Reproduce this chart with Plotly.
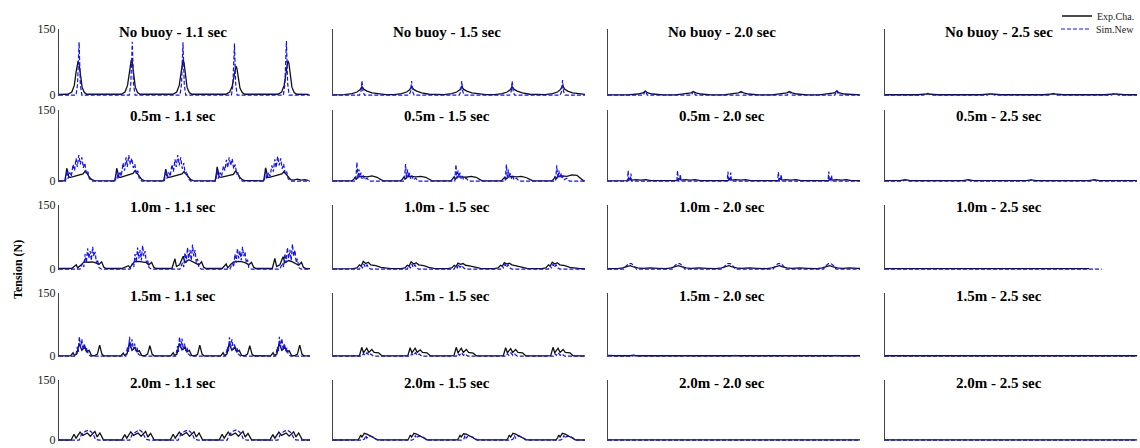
import plotly.graph_objects as go

# ---------------- data (x: relative time 0-100 across each panel, y: tension N) ----------------
row_labels = ["No buoy", "0.5m", "1.0m", "1.5m", "2.0m"]
period_labels = ["1.1 sec", "1.5 sec", "2.0 sec", "2.5 sec"]
y_ticks = [0, 150]

# Row 1 : No buoy
r1c1_exp_x = [0, 3.6, 5.1, 6.1, 6.8, 7.3, 7.6, 8.0, 8.6, 9.2, 10.1, 11.1, 24.8, 26.3, 27.3, 28.0, 28.5, 28.8, 29.2, 29.8, 30.4, 31.3, 32.3, 45.4, 46.9, 47.9, 48.6, 49.1, 49.4, 49.8, 50.4, 51.0, 51.9, 52.9, 66.5, 68.0, 69.0, 69.7, 70.2, 70.5, 70.9, 71.5, 72.1, 73.0, 74.0, 87.2, 88.7, 89.7, 90.4, 90.9, 91.2, 91.6, 92.2, 92.8, 93.7, 94.7, 99.5]
r1c1_exp_y = [1.5, 2, 7, 22, 52, 72, 77, 71, 45, 18, 6, 2, 2, 7, 22, 52, 75, 80, 74, 45, 18, 6, 2, 2, 7, 22, 52, 75, 80, 74, 45, 18, 6, 2, 2, 7, 20, 45, 61, 66, 60, 40, 16, 6, 2, 2, 7, 22, 52, 73, 78, 72, 45, 18, 6, 2, 1.5]
r1c1_sim_x = [0, 6.8, 7.4, 8.0, 8.5, 9.1, 28.0, 28.6, 29.2, 29.7, 30.3, 48.2, 48.8, 49.4, 49.9, 50.5, 68.7, 69.3, 69.9, 70.4, 71.0, 89.4, 90.0, 90.6, 91.1, 91.7, 100]
r1c1_sim_y = [0, 0, 25, 120, 25, 0, 0, 25, 121, 25, 0, 0, 25, 120, 25, 0, 0, 24, 117, 24, 0, 0, 26, 123, 26, 0, 0]

r1c2_exp_x = [0, 4.5, 7.5, 9.5, 10.7, 11.5, 12.3, 13.5, 15.5, 18.5, 21.0, 24.2, 27.2, 29.2, 30.4, 31.2, 32.0, 33.2, 35.2, 38.2, 40.7, 44.1, 47.1, 49.1, 50.3, 51.1, 51.9, 53.1, 55.1, 58.1, 60.6, 64.1, 67.1, 69.1, 70.3, 71.1, 71.9, 73.1, 75.1, 78.1, 80.6, 84.1, 87.1, 89.1, 90.3, 91.1, 91.9, 93.1, 95.1, 98.1, 100]
r1c2_exp_y = [0.5, 1, 3.5, 7, 12, 19, 13, 9, 5, 2, 1, 1, 3.5, 7, 12, 19, 13, 9, 5, 2, 1, 1, 3.5, 7, 12, 19, 13, 9, 5, 2, 1, 1, 3.5, 7, 12, 19, 13, 9, 5, 2, 1, 1, 3.5, 7, 13, 21, 14, 9, 5, 2, 1.5]
r1c2_sim_x = [0, 10.5, 11.1, 11.5, 11.9, 12.5, 30.2, 30.8, 31.2, 31.6, 32.2, 50.1, 50.7, 51.1, 51.5, 52.1, 70.1, 70.7, 71.1, 71.5, 72.1, 90.1, 90.7, 91.1, 91.5, 92.1, 100]
r1c2_sim_y = [0, 0, 8, 33, 8, 0, 0, 8, 32, 8, 0, 0, 8, 32, 8, 0, 0, 8, 32, 8, 0, 0, 8, 34, 8, 0, 0]

r1c3_exp_x = [0, 7.8, 11.8, 13.8, 14.8, 15.8, 17.8, 21.8, 26.9, 30.9, 32.9, 33.9, 34.9, 36.9, 40.9, 45.8, 49.8, 51.8, 52.8, 53.8, 55.8, 59.8, 65.0, 69.0, 71.0, 72.0, 73.0, 75.0, 79.0, 83.8, 87.8, 89.8, 90.8, 91.8, 93.8, 97.8, 100]
r1c3_exp_y = [0.5, 0.5, 2.5, 5, 9, 5, 2.5, 0.5, 0.5, 2.5, 5, 8, 5, 2.5, 0.5, 0.5, 2.5, 5, 8, 5, 2.5, 0.5, 0.5, 2.5, 5, 8, 5, 2.5, 0.5, 0.5, 2.5, 5, 9, 5, 2.5, 0.5, 0.5]
r1c3_sim_x = [0, 14.0, 14.8, 15.6, 33.1, 33.9, 34.7, 52.0, 52.8, 53.6, 71.2, 72.0, 72.8, 90.0, 90.8, 91.6, 100]
r1c3_sim_y = [0, 0, 10, 0, 0, 9, 0, 0, 9, 0, 0, 9, 0, 0, 11, 0, 0]

r1c4_exp_x = [0, 12.8, 16.8, 20.8, 38, 42, 46, 62.8, 66.8, 70.8, 87.2, 91.2, 95.2, 100]
r1c4_exp_y = [0.8, 0.8, 3, 0.8, 0.8, 3, 0.8, 0.8, 3, 0.8, 0.8, 3, 0.8, 0.8]
r1c4_sim_x = [0, 15.3, 16.8, 18.3, 40.5, 42, 43.5, 65.3, 66.8, 68.3, 89.7, 91.2, 92.7, 100]
r1c4_sim_y = [0, 0, 4, 0, 0, 4, 0, 0, 4, 0, 0, 4, 0, 0]

# Row 2 : 0.5 m
r2c1_exp_x = [0, 2.3, 2.8, 3.1, 3.5, 3.9, 4.6, 6.1, 8.1, 9.6, 10.4, 11.1, 12.1, 13.1, 14.1,
              22.2, 22.7, 23.0, 23.4, 23.8, 24.5, 26.0, 28.0, 29.5, 30.3, 31.0, 32.0, 33.0, 34.0,
              41.7, 42.2, 42.5, 42.9, 43.3, 44.0, 45.5, 47.5, 49.0, 49.8, 50.5, 51.5, 52.5, 53.5,
              62.2, 62.7, 63.0, 63.4, 63.8, 64.5, 66.0, 68.0, 69.5, 70.3, 71.0, 72.0, 73.0, 74.0,
              81.5, 82.0, 82.3, 82.7, 83.1, 83.8, 85.3, 87.3, 88.8, 89.6, 90.3, 91.3, 92.3, 93.3, 95.0, 96.5, 98.0, 99.5]
r2c1_exp_y = [0.5, 0.5, 15, 27, 20, 8, 8, 10, 12, 15, 21, 17, 8, 3, 1,
              0.5, 15, 27, 19, 8, 8, 10, 13, 16, 22, 17, 8, 3, 1,
              0.5, 14, 25, 18, 8, 8, 10, 12, 15, 20, 16, 8, 3, 1,
              0.5, 16, 30, 21, 9, 8, 10, 12, 14, 21, 17, 8, 3, 1,
              0.5, 15, 28, 20, 8, 8, 10, 12, 15, 20, 16, 8, 3, 2, 4, 2, 3, 1]
r2c1_sim_x = [0, 2.6, 3.1, 3.6, 4.3, 4.9, 5.6, 6.2, 6.8, 7.3, 7.9, 8.5, 9.1, 9.7, 10.3, 10.9, 11.5, 12.1, 13.1,
              22.5, 23.0, 23.5, 24.2, 24.8, 25.5, 26.1, 26.7, 27.2, 27.8, 28.4, 29.0, 29.6, 30.2, 30.8, 31.4, 32.0, 33.0,
              42.0, 42.5, 43.0, 43.7, 44.3, 45.0, 45.6, 46.2, 46.7, 47.3, 47.9, 48.5, 49.1, 49.7, 50.3, 50.9, 51.5, 52.5,
              62.5, 63.0, 63.5, 64.2, 64.8, 65.5, 66.1, 66.7, 67.2, 67.8, 68.4, 69.0, 69.6, 70.2, 70.8, 71.4, 72.0, 73.0,
              81.8, 82.3, 82.8, 83.5, 84.1, 84.8, 85.4, 86.0, 86.5, 87.1, 87.7, 88.3, 88.9, 89.5, 90.1, 90.7, 91.3, 92.3, 100]
r2c1_sim_y = [0, 0, 22, 5, 18, 10, 35, 22, 48, 30, 55, 35, 50, 28, 38, 15, 20, 5, 0,
              0, 20, 5, 20, 10, 38, 22, 50, 30, 55, 35, 48, 28, 36, 15, 22, 5, 0,
              0, 22, 5, 18, 10, 35, 20, 46, 30, 55, 33, 50, 26, 38, 15, 20, 5, 0,
              0, 25, 5, 18, 10, 32, 22, 45, 28, 50, 33, 47, 26, 35, 14, 18, 5, 0,
              0, 20, 5, 18, 10, 33, 20, 46, 28, 52, 33, 48, 26, 36, 15, 20, 5, 0, 0]

r2c2_exp_x = [0, 7.5, 8.3, 8.8, 9.3, 10.0, 11.5, 13.5, 15.5, 17.5, 19.0, 20.0,
              26.8, 27.6, 28.1, 28.6, 29.3, 30.8, 32.8, 34.8, 36.8, 38.3, 39.3,
              46.8, 47.6, 48.1, 48.6, 49.3, 50.8, 52.8, 54.8, 56.8, 58.3, 59.3,
              66.8, 67.6, 68.1, 68.6, 69.3, 70.8, 72.8, 74.8, 76.8, 78.3, 79.3,
              86.8, 87.6, 88.1, 88.6, 89.3, 90.8, 92.8, 94.8, 96.8, 98.3, 99.3, 100]
r2c2_exp_y = [0.5, 0.5, 4, 8, 4, 9, 10, 9, 11, 8, 3, 0.5,
              0.5, 4, 9, 4, 9, 10, 9, 10, 8, 3, 0.5,
              0.5, 5, 9, 4, 9, 9, 8, 10, 8, 3, 0.5,
              0.5, 4, 8, 4, 8, 10, 9, 10, 7, 3, 0.5,
              0.5, 4, 9, 5, 10, 11, 10, 13, 12, 6, 1, 0.5]
r2c2_sim_x = [0, 9.0, 9.5, 9.9, 10.3, 10.7, 11.1, 11.5, 12.0, 12.5, 13.5, 14.5,
              28.3, 28.8, 29.2, 29.6, 30.0, 30.4, 30.8, 31.3, 31.8, 32.8, 33.8,
              48.3, 48.8, 49.2, 49.6, 50.0, 50.4, 50.8, 51.3, 51.8, 52.8, 53.8,
              68.3, 68.8, 69.2, 69.6, 70.0, 70.4, 70.8, 71.3, 71.8, 72.8, 73.8,
              88.3, 88.8, 89.2, 89.6, 90.0, 90.4, 90.8, 91.3, 91.8, 92.8, 93.8, 100]
r2c2_sim_y = [0, 0, 40, 5, 25, 8, 18, 5, 12, 3, 6, 0,
              0, 36, 5, 24, 8, 17, 5, 12, 3, 6, 0,
              0, 35, 5, 22, 8, 18, 5, 11, 3, 6, 0,
              0, 35, 5, 24, 8, 16, 5, 12, 3, 6, 0,
              0, 33, 5, 22, 8, 17, 5, 11, 3, 6, 0, 0]

r2c3_exp_x = [0, 7, 8, 8.5, 9.5, 11, 13, 15, 17,
              26.6, 27.6, 28.1, 29.1, 30.6, 32.6, 34.6, 36.6,
              46.6, 47.6, 48.1, 49.1, 50.6, 52.6, 54.6, 56.6,
              66.6, 67.6, 68.1, 69.1, 70.6, 72.6, 74.6, 76.6,
              86.6, 87.6, 88.1, 89.1, 90.6, 92.6, 94.6, 96.6, 100]
r2c3_exp_y = [0.5, 1, 1, 5, 2, 3, 2, 3, 1,
              1, 1, 5, 2, 3, 2, 3, 1,
              1, 1, 5, 2, 3, 2, 3, 1,
              1, 1, 5, 2, 3, 2, 3, 1,
              1, 1, 5, 2, 3, 2, 3, 1, 1]
r2c3_sim_x = [0, 7.7, 8, 8.3, 8.8, 9.1, 9.4,
              27.3, 27.6, 27.9, 28.4, 28.7, 29.0,
              47.3, 47.6, 47.9, 48.4, 48.7, 49.0,
              67.3, 67.6, 67.9, 68.4, 68.7, 69.0,
              87.3, 87.6, 87.9, 88.4, 88.7, 89.0, 100]
r2c3_sim_y = [0, 0, 22, 0, 0, 16, 0,
              0, 22, 0, 0, 14, 0,
              0, 20, 0, 0, 18, 0,
              0, 19, 0, 0, 14, 0,
              0, 20, 0, 0, 12, 0, 0]

r2c4_exp_x = [0, 6, 8, 10, 31, 33, 35, 56, 58, 60, 81, 83, 85, 100]
r2c4_exp_y = [0.8, 0.8, 3, 0.8, 0.8, 3, 0.8, 0.8, 2.5, 0.8, 0.8, 3, 0.8, 0.8]
r2c4_sim_x = [0, 7, 8, 9, 32, 33, 34, 57, 58, 59, 82, 83, 84, 100]
r2c4_sim_y = [0, 0, 2.5, 0, 0, 2.5, 0, 0, 2.5, 0, 0, 2.5, 0, 0]

# Row 3 : 1.0 m
r3c1_exp_x = [0, 5.0, 6.9, 7.4, 8.9, 9.9, 11.9, 13.4, 14.9, 15.9, 17.0, 17.8, 18.7,
              25.0, 27.7, 28.3, 29.3, 30.0, 31.8, 33.3, 34.8, 35.8, 36.9, 37.7, 38.6,
              45.0, 46.2, 46.8, 48.0, 49.5, 50.2, 51.7, 53.2, 54.7, 55.7, 56.8, 57.6, 58.5,
              65.0, 66.6, 67.2, 68.6, 69.6, 71.6, 73.1, 74.6, 75.6, 76.7, 77.5, 78.4,
              85.0, 86.0, 86.7, 88.0, 89.3, 90.0, 91.5, 93.0, 94.5, 95.5, 96.6, 97.4, 98.5, 100]
r3c1_exp_y = [1.5, 1.5, 10, 3, 10, 17, 16, 17, 14, 11, 17, 5, 1.5,
              1.5, 8, 3, 12, 17, 18, 17, 15, 10, 16, 5, 1.5,
              1.5, 24, 6, 10, 30, 15, 22, 18, 14, 10, 17, 5, 1.5,
              1.5, 12, 3, 12, 17, 18, 17, 14, 10, 16, 5, 1.5,
              1.5, 25, 6, 10, 29, 15, 20, 17, 12, 9, 16, 4, 1, 1]
r3c1_sim_x = [0, 8.4, 9.4, 9.9, 10.4, 10.9, 11.4, 11.9, 12.4, 12.9, 13.4, 13.9, 14.4, 14.9, 15.4, 15.9, 16.9,
              28.3, 29.3, 29.8, 30.3, 30.8, 31.3, 31.8, 32.3, 32.8, 33.3, 33.8, 34.3, 34.8, 35.3, 35.8, 36.8,
              48.2, 49.2, 49.7, 50.2, 50.7, 51.2, 51.7, 52.2, 52.7, 53.2, 53.7, 54.2, 54.7, 55.2, 55.7, 56.7,
              68.1, 69.1, 69.6, 70.1, 70.6, 71.1, 71.6, 72.1, 72.6, 73.1, 73.6, 74.1, 74.6, 75.1, 75.6, 76.6,
              88.0, 89.0, 89.5, 90.0, 90.5, 91.0, 91.5, 92.0, 92.5, 93.0, 93.5, 94.0, 94.5, 95.0, 95.5, 96.5, 100]
r3c1_sim_y = [0, 0, 14, 5, 35, 15, 48, 25, 42, 20, 52, 30, 40, 15, 22, 4, 0,
              0, 14, 5, 35, 15, 50, 25, 44, 20, 55, 30, 42, 15, 22, 4, 0,
              0, 15, 5, 38, 15, 50, 25, 44, 20, 57, 30, 44, 15, 24, 4, 0,
              0, 14, 5, 35, 15, 48, 25, 42, 20, 52, 30, 40, 15, 22, 4, 0,
              0, 14, 5, 36, 15, 50, 25, 45, 20, 58, 30, 44, 15, 24, 4, 0, 0]

r3c2_exp_x = [0, 8, 9.5, 10.5, 11.2, 12, 13, 14, 15, 17, 19, 21, 23,
              27, 28.5, 29.5, 30.2, 31, 32, 33, 34, 36, 38, 40, 42,
              45.6, 47.1, 48.1, 48.8, 49.6, 50.6, 51.6, 52.6, 54.6, 56.6, 58.6, 60.6,
              64, 65.5, 66.5, 67.2, 68, 69, 70, 71, 73, 75, 77, 79,
              83, 84.5, 85.5, 86.2, 87, 88, 89, 90, 92, 94, 96, 98, 100]
r3c2_exp_y = [0.5, 1, 3, 10, 7, 18, 13, 16, 10, 8, 4, 2, 1,
              1, 3, 9, 7, 17, 12, 15, 10, 8, 4, 2, 1,
              1, 3, 9, 6, 14, 11, 13, 9, 7, 4, 2, 1,
              1, 3, 9, 7, 15, 12, 14, 10, 7, 4, 2, 1,
              1, 3, 10, 7, 16, 12, 15, 10, 8, 4, 2, 1, 1]
r3c2_sim_x = [0, 10.5, 11, 11.7, 12.3, 12.8, 13.5, 14.2, 15,
              29.5, 30, 30.7, 31.3, 31.8, 32.5, 33.2, 34,
              48.1, 48.6, 49.3, 49.9, 50.4, 51.1, 51.8, 52.6,
              66.5, 67, 67.7, 68.3, 68.8, 69.5, 70.2, 71,
              85.5, 86, 86.7, 87.3, 87.8, 88.5, 89.2, 90, 100]
r3c2_sim_y = [0, 0, 8, 3, 12, 4, 10, 3, 0,
              0, 8, 3, 12, 4, 10, 3, 0,
              0, 7, 3, 11, 4, 9, 3, 0,
              0, 8, 3, 12, 4, 10, 3, 0,
              0, 8, 3, 12, 4, 10, 3, 0, 0]

r3c3_exp_x = [0, 3.8, 5.8, 7.8, 8.8, 9.8, 11.8, 13.8, 16.8, 19.8,
              23, 25, 27, 28, 29, 31, 33, 36, 39,
              43, 45, 47, 48, 49, 51, 53, 56, 59,
              63, 65, 67, 68, 69, 71, 73, 76, 79,
              83, 85, 87, 88, 89, 91, 93, 96, 99, 100]
r3c3_exp_y = [1, 1, 3, 6, 8, 6, 3, 2, 3, 2,
              1, 3, 6, 8, 6, 3, 2, 3, 2,
              1, 3, 6, 8, 6, 3, 2, 3, 2,
              1, 3, 6, 8, 6, 3, 2, 3, 2,
              1, 3, 6, 8, 6, 3, 2, 3, 2, 1.5]
r3c3_sim_x = [0, 6.3, 7.3, 8.3, 9.3, 10.3, 11.3,
              25.5, 26.5, 27.5, 28.5, 29.5, 30.5,
              45.5, 46.5, 47.5, 48.5, 49.5, 50.5,
              65.5, 66.5, 67.5, 68.5, 69.5, 70.5,
              85.5, 86.5, 87.5, 88.5, 89.5, 90.5, 100]
r3c3_sim_y = [0, 0, 8, 13, 13, 8, 0,
              0, 8, 13, 13, 8, 0,
              0, 8, 13, 13, 8, 0,
              0, 8, 13, 13, 8, 0,
              0, 8, 13, 13, 8, 0, 0]

r3c4_exp_x = [0, 20, 40, 60, 81]
r3c4_exp_y = [1, 1.2, 1, 1.2, 1]
r3c4_sim_x = [0, 86]
r3c4_sim_y = [0, 0]

# Row 4 : 1.5 m
r4c1_exp_x = [0, 4.6, 5.6, 6.1, 7.1, 8.0, 9.1, 10.3, 11.1, 12.0, 12.9, 14.1, 15.3, 16.2, 17.1, 17.8,
              24.6, 25.6, 26.1, 27.1, 28.0, 29.1, 30.3, 31.1, 32.0, 32.9, 34.1, 35.3, 36.2, 37.1, 37.8,
              44.5, 45.5, 46.0, 47.0, 47.9, 49.0, 50.2, 51.0, 51.9, 52.8, 54.0, 55.2, 56.1, 57.0, 57.7,
              64.4, 65.4, 65.9, 66.9, 67.8, 68.9, 70.1, 70.9, 71.8, 72.7, 73.9, 75.1, 76.0, 76.9, 77.6,
              84.3, 85.3, 85.8, 86.8, 87.7, 88.8, 90.0, 90.8, 91.7, 92.6, 93.8, 95.0, 95.9, 96.8, 97.5, 100]
r4c1_exp_y = [0.5, 0.5, 8, 2, 5, 30, 14, 22, 10, 14, 2, 1, 5, 26, 5, 1,
              0.5, 7, 2, 5, 31, 14, 21, 10, 13, 2, 1, 5, 25, 5, 1,
              0.5, 8, 2, 5, 30, 15, 22, 10, 14, 2, 1, 4, 26, 5, 1,
              0.5, 8, 2, 5, 29, 14, 22, 10, 14, 2, 1, 5, 25, 5, 1,
              0.5, 8, 2, 5, 30, 14, 21, 10, 13, 2, 1, 5, 26, 5, 1, 0.5]
r4c1_sim_x = [0, 6.6, 7.3, 7.7, 8.1, 8.6, 9.1, 9.6, 10.1, 10.6, 11.1, 11.6, 12.6,
              26.6, 27.3, 27.7, 28.1, 28.6, 29.1, 29.6, 30.1, 30.6, 31.1, 31.6, 32.6,
              46.5, 47.2, 47.6, 48.0, 48.5, 49.0, 49.5, 50.0, 50.5, 51.0, 51.5, 52.5,
              66.4, 67.1, 67.5, 67.9, 68.4, 68.9, 69.4, 69.9, 70.4, 70.9, 71.4, 72.4,
              86.3, 87.0, 87.4, 87.8, 88.3, 88.8, 89.3, 89.8, 90.3, 90.8, 91.3, 92.3, 100]
r4c1_sim_y = [0, 0, 22, 10, 46, 20, 40, 15, 30, 12, 20, 5, 0,
              0, 22, 10, 46, 20, 40, 15, 30, 12, 20, 5, 0,
              0, 24, 10, 46, 20, 42, 15, 30, 12, 20, 5, 0,
              0, 22, 10, 45, 20, 40, 15, 28, 12, 20, 5, 0,
              0, 22, 10, 46, 20, 42, 15, 30, 12, 20, 5, 0, 0]

r4c2_exp_x = [0, 8.5, 10.5, 11.4, 12.1, 13.4, 14.2, 15.4, 16.3, 18.1, 19.4,
              27.7, 29.7, 30.6, 31.3, 32.6, 33.4, 34.6, 35.5, 37.3, 38.6,
              46.0, 48.0, 48.9, 49.6, 50.9, 51.7, 52.9, 53.8, 55.6, 56.9,
              65.6, 67.6, 68.5, 69.2, 70.5, 71.3, 72.5, 73.4, 75.2, 76.5,
              84.4, 86.4, 87.3, 88.0, 89.3, 90.1, 91.3, 92.2, 94.0, 95.3, 100]
r4c2_exp_y = [0.5, 0.5, 1, 21, 8, 19, 9, 16, 9, 8, 1,
              0.5, 1, 20, 8, 19, 9, 15, 9, 8, 1,
              0.5, 1, 21, 8, 19, 9, 16, 9, 7, 1,
              0.5, 1, 20, 8, 18, 9, 16, 9, 8, 1,
              0.5, 1, 21, 8, 19, 9, 16, 9, 8, 1, 0.5]
r4c2_sim_x = [0, 11.5, 12.1, 12.7, 13.5, 14.3, 15.0, 16.0,
              30.7, 31.3, 31.9, 32.7, 33.5, 34.2, 35.2,
              49.0, 49.6, 50.2, 51.0, 51.8, 52.5, 53.5,
              68.6, 69.2, 69.8, 70.6, 71.4, 72.1, 73.1,
              87.4, 88.0, 88.6, 89.4, 90.2, 90.9, 91.9, 100]
r4c2_sim_y = [0, 0, 6, 2, 8, 2, 5, 0,
              0, 6, 2, 8, 2, 5, 0,
              0, 6, 2, 8, 2, 5, 0,
              0, 6, 2, 8, 2, 5, 0,
              0, 6, 2, 8, 2, 5, 0, 0]

r4c3_exp_x = [0, 3, 9, 10, 11, 29, 30, 31, 49, 50, 51, 69, 70, 71, 89, 90, 91, 100]
r4c3_exp_y = [2, 1, 1, 2.5, 1, 1, 2.5, 1, 1, 2.5, 1, 1, 2.5, 1, 1, 2.5, 1, 1]
r4c3_sim_x = [0, 9.5, 10.5, 11.5, 29.5, 30.5, 31.5, 49.5, 50.5, 51.5, 69.5, 70.5, 71.5, 89.5, 90.5, 91.5, 100]
r4c3_sim_y = [0, 0, 2, 0, 0, 2, 0, 0, 2, 0, 0, 2, 0, 0, 2, 0, 0]

r4c4_exp_x = [0, 100]
r4c4_exp_y = [1, 1]
r4c4_sim_x = [0, 100]
r4c4_sim_y = [0, 0]

# Row 5 : 2.0 m
r5c1_exp_x = [0, 4.8, 6.0, 6.8, 8.4, 9.5, 11.3, 12.5, 14.3, 15.2, 16.3, 17.7,
              25.0, 26.2, 27.0, 28.6, 29.7, 31.5, 32.7, 34.5, 35.4, 36.5, 37.9,
              44.3, 45.5, 46.3, 47.9, 49.0, 50.8, 52.0, 53.8, 54.7, 55.8, 57.2,
              63.8, 65.0, 65.8, 67.4, 68.5, 70.3, 71.5, 73.3, 74.2, 75.3, 76.7,
              84.0, 85.2, 86.0, 87.6, 88.7, 90.5, 91.7, 93.5, 94.4, 95.5, 96.9, 100]
r5c1_exp_y = [0.5, 0.5, 15, 5, 20, 12, 18, 10, 22, 8, 18, 1,
              0.5, 14, 5, 21, 12, 18, 10, 22, 8, 17, 1,
              0.5, 15, 5, 20, 12, 19, 10, 21, 8, 18, 1,
              0.5, 15, 5, 20, 12, 18, 10, 22, 8, 17, 1,
              0.5, 14, 5, 20, 12, 18, 10, 21, 8, 18, 1, 0.5]
r5c1_sim_x = [0, 8.0, 9.0, 10.5, 11.8, 13.0, 14.0, 14.5, 16.0,
              28.2, 29.2, 30.7, 32.0, 33.2, 34.2, 34.7, 36.2,
              47.5, 48.5, 50.0, 51.3, 52.5, 53.5, 54.0, 55.5,
              67.0, 68.0, 69.5, 70.8, 72.0, 73.0, 73.5, 75.0,
              87.2, 88.2, 89.7, 91.0, 92.2, 93.2, 93.7, 95.2, 100]
r5c1_sim_y = [0, 0, 15, 22, 25, 20, 10, 2, 0,
              0, 15, 22, 26, 20, 10, 2, 0,
              0, 15, 22, 25, 20, 10, 2, 0,
              0, 15, 23, 26, 20, 10, 2, 0,
              0, 15, 22, 25, 20, 10, 2, 0, 0]

r5c2_exp_x = [0, 9, 10, 10.5, 11, 11.5, 12.4, 13.5, 14.5, 15.5, 16.5, 17.5,
              28.7, 29.7, 30.2, 30.7, 31.2, 32.1, 33.2, 34.2, 35.2, 36.2, 37.2,
              48.4, 49.4, 49.9, 50.4, 50.9, 51.8, 52.9, 53.9, 54.9, 55.9, 56.9,
              68, 69, 69.5, 70, 70.5, 71.4, 72.5, 73.5, 74.5, 75.5, 76.5,
              87.6, 88.6, 89.1, 89.6, 90.1, 91, 92.1, 93.1, 94.1, 95.1, 96.1, 100]
r5c2_exp_y = [0.5, 0.5, 1, 6, 13, 8, 17, 15, 12, 10, 5, 1,
              0.5, 1, 6, 13, 8, 17, 15, 12, 10, 5, 1,
              0.5, 1, 6, 12, 8, 16, 15, 12, 10, 5, 1,
              0.5, 1, 6, 13, 8, 17, 15, 12, 10, 5, 1,
              0.5, 1, 6, 13, 8, 17, 15, 12, 10, 5, 1, 0.5]
r5c2_sim_x = [0, 11.5, 12.5, 13, 13.4, 14, 15, 16, 17, 18,
              31.2, 32.2, 32.7, 33.1, 33.7, 34.7, 35.7, 36.7, 37.7,
              50.9, 51.9, 52.4, 52.8, 53.4, 54.4, 55.4, 56.4, 57.4,
              70.5, 71.5, 72, 72.4, 73, 74, 75, 76, 77,
              90.1, 91.1, 91.6, 92, 92.6, 93.6, 94.6, 95.6, 96.6, 100]
r5c2_sim_y = [0, 0, 3, 12, 5, 9, 10, 8, 3, 0,
              0, 3, 12, 5, 9, 10, 8, 3, 0,
              0, 3, 12, 5, 9, 10, 8, 3, 0,
              0, 3, 12, 5, 9, 10, 8, 3, 0,
              0, 3, 12, 5, 9, 10, 8, 3, 0, 0]

r5c3_exp_x = [0, 9, 10, 11, 29, 30, 31, 49, 50, 51, 69, 70, 71, 89, 90, 91, 100]
r5c3_exp_y = [1, 1, 2.5, 1, 1, 2.5, 1, 1, 2.5, 1, 1, 2.5, 1, 1, 2.5, 1, 1]
r5c3_sim_x = [0, 9.5, 10.5, 11.5, 29.5, 30.5, 31.5, 49.5, 50.5, 51.5, 69.5, 70.5, 71.5, 89.5, 90.5, 91.5, 100]
r5c3_sim_y = [0, 0, 1.5, 0, 0, 1.5, 0, 0, 1.5, 0, 0, 1.5, 0, 0, 1.5, 0, 0]

r5c4_exp_x = [0, 100]
r5c4_exp_y = [0.8, 0.8]
r5c4_sim_x = [0, 100]
r5c4_sim_y = [0, 0]

panel_data = {
    (0, 0): (r1c1_exp_x, r1c1_exp_y, r1c1_sim_x, r1c1_sim_y),
    (0, 1): (r1c2_exp_x, r1c2_exp_y, r1c2_sim_x, r1c2_sim_y),
    (0, 2): (r1c3_exp_x, r1c3_exp_y, r1c3_sim_x, r1c3_sim_y),
    (0, 3): (r1c4_exp_x, r1c4_exp_y, r1c4_sim_x, r1c4_sim_y),
    (1, 0): (r2c1_exp_x, r2c1_exp_y, r2c1_sim_x, r2c1_sim_y),
    (1, 1): (r2c2_exp_x, r2c2_exp_y, r2c2_sim_x, r2c2_sim_y),
    (1, 2): (r2c3_exp_x, r2c3_exp_y, r2c3_sim_x, r2c3_sim_y),
    (1, 3): (r2c4_exp_x, r2c4_exp_y, r2c4_sim_x, r2c4_sim_y),
    (2, 0): (r3c1_exp_x, r3c1_exp_y, r3c1_sim_x, r3c1_sim_y),
    (2, 1): (r3c2_exp_x, r3c2_exp_y, r3c2_sim_x, r3c2_sim_y),
    (2, 2): (r3c3_exp_x, r3c3_exp_y, r3c3_sim_x, r3c3_sim_y),
    (2, 3): (r3c4_exp_x, r3c4_exp_y, r3c4_sim_x, r3c4_sim_y),
    (3, 0): (r4c1_exp_x, r4c1_exp_y, r4c1_sim_x, r4c1_sim_y),
    (3, 1): (r4c2_exp_x, r4c2_exp_y, r4c2_sim_x, r4c2_sim_y),
    (3, 2): (r4c3_exp_x, r4c3_exp_y, r4c3_sim_x, r4c3_sim_y),
    (3, 3): (r4c4_exp_x, r4c4_exp_y, r4c4_sim_x, r4c4_sim_y),
    (4, 0): (r5c1_exp_x, r5c1_exp_y, r5c1_sim_x, r5c1_sim_y),
    (4, 1): (r5c2_exp_x, r5c2_exp_y, r5c2_sim_x, r5c2_sim_y),
    (4, 2): (r5c3_exp_x, r5c3_exp_y, r5c3_sim_x, r5c3_sim_y),
    (4, 3): (r5c4_exp_x, r5c4_exp_y, r5c4_sim_x, r5c4_sim_y),
}

# ---------------- layout geometry (pixels) ----------------
W, H = 1140, 448
col_px = [(59, 310), (333, 585), (608, 860), (885, 1137)]
row_px = [(29, 96), (110, 182), (204.5, 270), (293, 357), (380, 441)]
title_dy = [3, 6, 3, 3, 3]
SERIF = "Liberation Serif"
BLACK = "#111111"
BLUE = "#1010ff"

fig = go.Figure()
legend_common = dict(x=1.0, xanchor="right", yanchor="middle",
                     font=dict(family=SERIF, size=10, color="#222"),
                     bgcolor="rgba(0,0,0,0)", tracegroupgap=0, itemwidth=30,
                     borderwidth=0)
layout = dict(
    width=W, height=H,
    margin=dict(l=0, r=0, t=0, b=0, pad=0, autoexpand=False),
    paper_bgcolor="white", plot_bgcolor="white",
    showlegend=True,
    legend=dict(legend_common, y=1 - 16 / H),
    legend2=dict(legend_common, y=1 - 29 / H),
)
annotations = []

for r in range(5):
    for c in range(4):
        idx = r * 4 + c + 1
        sfx = "" if idx == 1 else str(idx)
        ex, ey, sx, sy = panel_data[(r, c)]
        first = idx == 1
        fig.add_trace(go.Scatter(x=ex, y=ey, mode="lines", name="Exp.Cha.",
                                 line=dict(color=BLACK, width=1.3),
                                 xaxis="x" + sfx, yaxis="y" + sfx, legend="legend",
                                 showlegend=first, legendgroup="exp", hoverinfo="skip"))
        fig.add_trace(go.Scatter(x=sx, y=sy, mode="lines", name="Sim.New",
                                 line=dict(color=BLUE, width=1.2, dash="4px,2px"),
                                 xaxis="x" + sfx, yaxis="y" + sfx, legend="legend2",
                                 showlegend=first, legendgroup="sim", hoverinfo="skip"))
        x0, x1 = col_px[c]
        y0, y1 = row_px[r]
        layout["xaxis" + sfx] = dict(domain=[x0 / W, x1 / W], range=[0, 100], visible=False,
                                     anchor="y" + sfx)
        layout["yaxis" + sfx] = dict(domain=[1 - y1 / H, 1 - y0 / H], range=[-2, 150],
                                     anchor="x" + sfx, tickvals=y_ticks,
                                     showticklabels=(c == 0), ticks="inside", ticklen=4,
                                     tickwidth=1, tickcolor="#333", showline=True,
                                     linecolor="#444", linewidth=1, showgrid=False,
                                     zeroline=False, automargin=False,
                                     ticklabeloverflow="allow",
                                     tickfont=dict(family=SERIF, size=12, color="#222"))
        annotations.append(dict(
            text="<b>%s - %s</b>" % (row_labels[r], period_labels[c]),
            x=(x0 + 114) / W, y=1 - (y0 + title_dy[r]) / H, xref="paper", yref="paper",
            xanchor="center", yanchor="middle", showarrow=False,
            font=dict(family=SERIF, size=15, color="black")))

annotations.append(dict(text="<b>Tension (N)</b>", x=18 / W, y=1 - 270 / H,
                        xref="paper", yref="paper", textangle=-90, showarrow=False,
                        xanchor="center", yanchor="middle",
                        font=dict(family=SERIF, size=12, color="black")))
layout["annotations"] = annotations
fig.update_layout(**layout)
fig.write_html("out.html")
